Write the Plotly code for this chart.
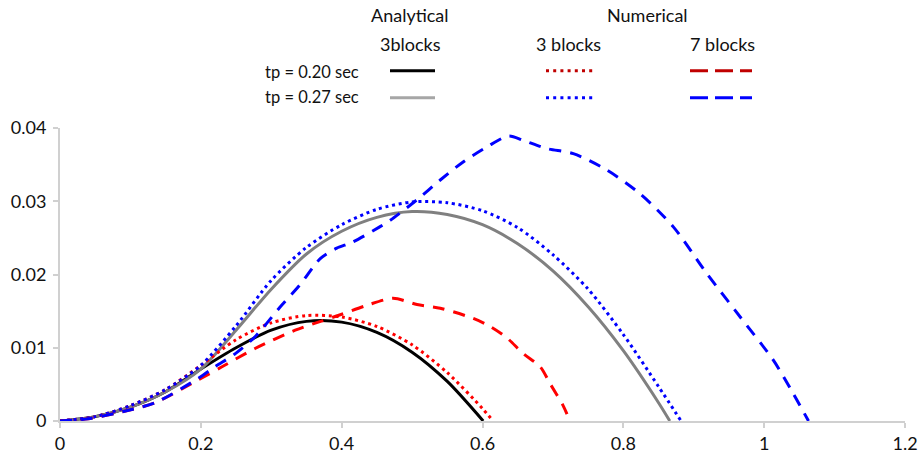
import plotly.graph_objects as go

# Analytical solution, 3 blocks, tp = 0.20 s
ana_020_x = [0, 0.05, 0.10, 0.15, 0.20, 0.25, 0.30, 0.35, 0.40, 0.45, 0.50, 0.55, 0.601]
ana_020_y = [0, 0.0006, 0.0019, 0.0040, 0.0071, 0.0100, 0.0124, 0.0136, 0.0135, 0.0121,
             0.0094, 0.0054, 0.0]

# Analytical solution, 3 blocks, tp = 0.27 s
ana_027_x = [0, 0.05, 0.10, 0.15, 0.20, 0.25, 0.30, 0.35, 0.40, 0.45, 0.50, 0.55, 0.60, 0.65,
             0.70, 0.75, 0.80, 0.85, 0.866]
ana_027_y = [0, 0.0006, 0.0019, 0.0040, 0.0071, 0.0124, 0.0180, 0.0228, 0.0259, 0.0278, 0.0286,
             0.0282, 0.0268, 0.0242, 0.0205, 0.0156, 0.0096, 0.0025, 0.0]

# Numerical, 3 blocks, tp = 0.20 s
num3_020_x = [0, 0.05, 0.10, 0.15, 0.20, 0.25, 0.30, 0.35, 0.40, 0.45, 0.50, 0.55, 0.60, 0.615]
num3_020_y = [0, 0.0006, 0.0021, 0.0043, 0.0076, 0.0111, 0.0134, 0.0144, 0.0142, 0.0129,
              0.0104, 0.0066, 0.0017, 0.0]

# Numerical, 3 blocks, tp = 0.27 s
num3_027_x = [0, 0.05, 0.10, 0.15, 0.20, 0.25, 0.30, 0.35, 0.40, 0.45, 0.50, 0.55, 0.60, 0.65,
              0.70, 0.75, 0.80, 0.85, 0.882]
num3_027_y = [0, 0.0006, 0.0021, 0.0043, 0.0076, 0.0130, 0.0192, 0.0237, 0.0268, 0.0289, 0.0299,
              0.0298, 0.0287, 0.0264, 0.0227, 0.0180, 0.0118, 0.0047, 0.0]

# Numerical, 7 blocks, tp = 0.20 s
num7_020_x = [0, 0.04, 0.09, 0.135, 0.196, 0.23, 0.277, 0.334, 0.37, 0.398, 0.436, 0.473, 0.507,
              0.54, 0.587, 0.611, 0.634, 0.658, 0.682, 0.696, 0.715, 0.724]
num7_020_y = [0, 0.0003, 0.0013, 0.0025, 0.0056, 0.0074, 0.0099, 0.0124, 0.0136, 0.0145, 0.0158,
              0.01675, 0.0159, 0.0154, 0.0140, 0.0129, 0.0114, 0.0092, 0.0074, 0.0051, 0.0020, 0.0]

# Numerical, 7 blocks, tp = 0.27 s
num7_027_x = [0, 0.04, 0.09, 0.135, 0.196, 0.22, 0.249, 0.277, 0.312, 0.34, 0.37, 0.393, 0.415,
              0.454, 0.469, 0.507, 0.54, 0.573, 0.606, 0.637, 0.658, 0.691, 0.729, 0.776, 0.824,
              0.871, 0.918, 0.966, 1.013, 1.041, 1.063]
num7_027_y = [0, 0.0003, 0.0013, 0.0025, 0.0058, 0.0074, 0.0092, 0.0115, 0.0155, 0.0185, 0.0222,
              0.0236, 0.0244, 0.0265, 0.0274, 0.0302, 0.0329, 0.0354, 0.0374, 0.0389, 0.0383,
              0.0372, 0.0365, 0.0343, 0.0310, 0.0265, 0.0202, 0.0142, 0.0083, 0.0038, 0.0]

x_ticks = [0, 0.2, 0.4, 0.6, 0.8, 1, 1.2]
y_ticks = [0, 0.01, 0.02, 0.03, 0.04]

FONT = "Lato"
W, H = 922, 453
ML, MR, MT, MB = 60, 17, 128, 32

RED = "#FF0000"
BLUE = "#0000FF"
GRAY = "#808080"
DOT = "3px,3.7px"
DASH = "12px,9px"

series = [
    (ana_020_x, ana_020_y, "black", "solid"),
    (ana_027_x, ana_027_y, GRAY, "solid"),
    (num3_020_x, num3_020_y, RED, DOT),
    (num3_027_x, num3_027_y, BLUE, DOT),
    (num7_020_x, num7_020_y, RED, DASH),
    (num7_027_x, num7_027_y, BLUE, DASH),
]

fig = go.Figure()
for xs, ys, color, dash in series:
    fig.add_trace(go.Scatter(
        x=xs, y=ys, mode="lines",
        line=dict(color=color, width=3, dash=dash, shape="spline", smoothing=0.8),
        showlegend=False, hoverinfo="skip",
    ))

pw, ph = W - ML - MR, H - MT - MB


def px_x(p):
    return (p - ML) / pw


def px_y(p):
    return (H - MB - p) / ph


# Table-style key above the plot
annotations = []


def label(text, x, y, anchor="center", size=18):
    annotations.append(dict(
        text=text, x=px_x(x), y=px_y(y), xref="paper", yref="paper",
        xanchor=anchor, yanchor="middle", showarrow=False,
        font=dict(family=FONT, size=size, color="#111111"),
    ))


label("Analytical", 410, 15)
label("Numerical", 647, 15)
label("3blocks", 410, 44)
label("3 blocks", 568, 44)
label("7 blocks", 722, 44)
label("tp = 0.20 sec", 361, 72, anchor="right", size=16.5)
label("tp = 0.27 sec", 361, 97, anchor="right", size=16.5)

shapes = []


def sample(x0, x1, y, color, dash):
    shapes.append(dict(
        type="line", xref="paper", yref="paper",
        x0=px_x(x0), x1=px_x(x1), y0=px_y(y), y1=px_y(y),
        line=dict(color=color, width=3, dash=dash),
    ))


sample(390, 435, 70.7, "black", "solid")
sample(390, 435, 97.7, "#A6A6A6", "solid")
sample(546, 593, 70.7, "#C00000", "3px,4.2px")
sample(546, 593, 97.7, BLUE, "3px,4.2px")
sample(690, 752, 70.7, "#C00000", "18px,7px")
sample(690, 752, 97.7, BLUE, "18px,7px")

axis_common = dict(
    showgrid=False, zeroline=False, showline=True, linecolor="#D0D0D0", linewidth=2,
    ticks="outside", ticklen=5, tickcolor="#D0D0D0", tickwidth=1.5, automargin=False,
    tickfont=dict(family=FONT, size=18, color="#111111"),
)

fig.update_layout(
    width=W, height=H,
    margin=dict(l=ML, r=MR, t=MT, b=MB, pad=0),
    paper_bgcolor="white", plot_bgcolor="white",
    xaxis=dict(range=[0, 1.2], tickvals=x_ticks, ticktext=[f"{v:g}" for v in x_ticks],
               **axis_common),
    yaxis=dict(range=[0, 0.04], tickvals=y_ticks, ticktext=[f"{v:g}" for v in y_ticks],
               ticklabelstandoff=3, **axis_common),
    annotations=annotations,
    shapes=shapes,
)

fig.write_html("out.html")
